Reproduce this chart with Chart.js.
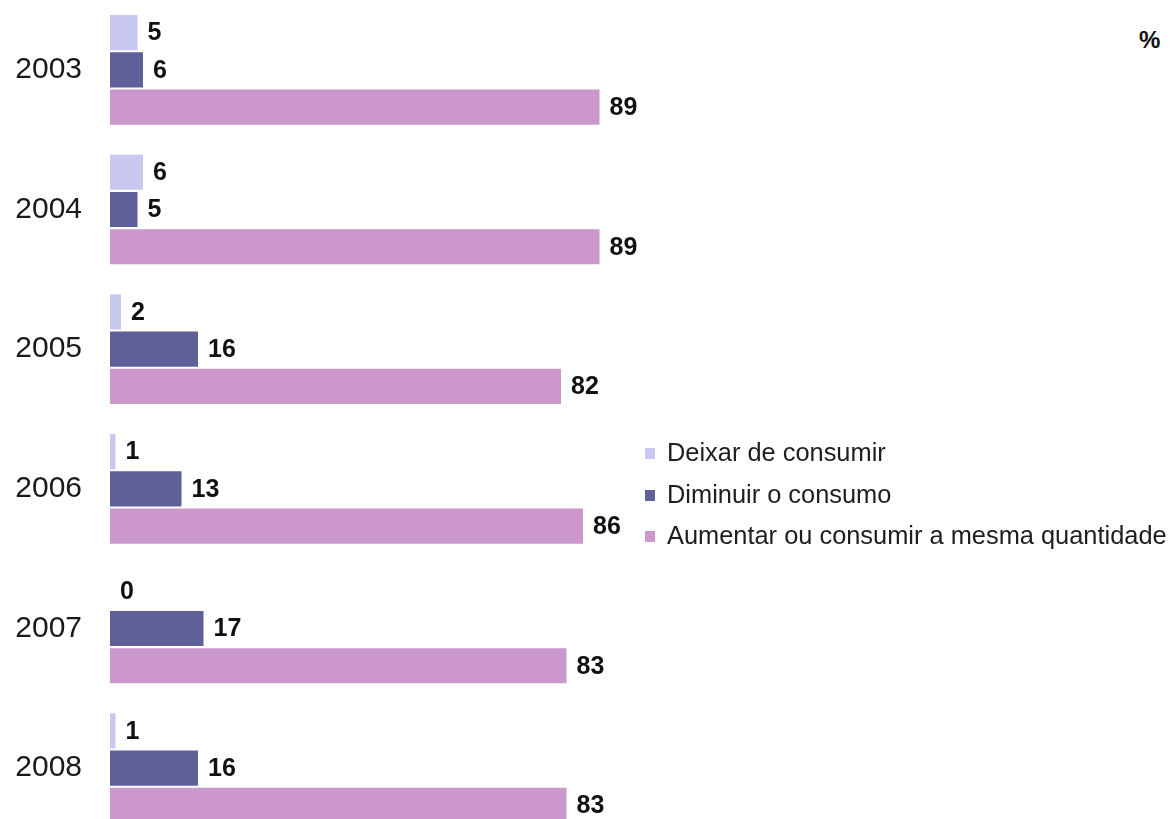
<!DOCTYPE html>
<html>
<head>
<meta charset="utf-8">
<script src="https://cdn.jsdelivr.net/npm/chart.js@4.4.1/dist/chart.umd.min.js"></script>
<style>
  html, body { margin: 0; padding: 0; background: #fff; overflow: hidden; }
  body { width: 1174px; height: 819px; position: relative; font-family: "Liberation Sans", Arial, sans-serif; }
  #wrap { position: absolute; left: 0; top: 0; width: 660px; height: 838px; }
  #legend { position: absolute; left: 645px; top: 434px; color: #1e1e1e; font-size: 25.4px; }
  #legend div { height: 41.5px; line-height: 36px; white-space: nowrap; }
  #legend span.box { display: inline-block; width: 10px; height: 11px; margin-right: 12px; vertical-align: 2px; }
  #pct { position: absolute; left: 1139px; top: 26px; font-weight: bold; font-size: 24px; color: #111; }
</style>
</head>
<body>
<div id="wrap"><canvas id="chart-1"></canvas></div>
<div id="legend"></div>
<div id="pct">%</div>
<script>
const years = ['2003', '2004', '2005', '2006', '2007', '2008'];
const seriesNames = ['Deixar de consumir', 'Diminuir o consumo', 'Aumentar ou consumir a mesma quantidade'];
const deixar = [5, 6, 2, 1, 0, 1];
const diminuir = [6, 5, 16, 13, 17, 16];
const aumentar = [89, 89, 82, 86, 83, 83];
const colours = ['#c8c8f0', '#606098', '#cc98cc'];

const chart1 = document.querySelector('#chart-1');
const legend = document.querySelector('#legend');

// values written at the end of each bar
const barValues = {
    id: 'barValues',
    afterDatasetsDraw(chart) {
        const ctx = chart.ctx;
        ctx.save();
        ctx.font = 'bold 25px "Liberation Sans", Arial, sans-serif';
        ctx.fillStyle = '#111';
        ctx.textAlign = 'left';
        ctx.textBaseline = 'middle';
        chart.data.datasets.forEach((ds, i) => {
            const meta = chart.getDatasetMeta(i);
            meta.data.forEach((bar, j) => {
                ctx.fillText(ds.data[j], bar.x + 10, bar.y + 1);
            });
        });
        ctx.restore();
    }
};

new Chart(chart1, {
    type: 'bar',
    data: {
        labels: years,
        datasets: [
            { label: seriesNames[0], data: deixar, backgroundColor: colours[0] },
            { label: seriesNames[1], data: diminuir, backgroundColor: colours[1] },
            { label: seriesNames[2], data: aumentar, backgroundColor: colours[2] }
        ]
    },
    options: {
        indexAxis: 'y',
        responsive: true,
        maintainAspectRatio: false,
        devicePixelRatio: 1,
        animation: false,
        categoryPercentage: 0.8,
        barPercentage: 0.945,
        layout: { padding: 0 },
        plugins: {
            legend: { display: false },
            tooltip: { enabled: false }
        },
        scales: {
            x: {
                display: false,
                min: 0,
                max: 100
            },
            y: {
                grid: { display: false, drawTicks: false },
                border: { display: false },
                ticks: {
                    padding: 28,
                    color: '#1a1a1a',
                    font: { family: '"Liberation Sans", Arial, sans-serif', size: 30 }
                },
                afterFit(scale) {
                    scale.width = 110;
                    scale.paddingTop = 0;
                    scale.paddingBottom = 0;
                }
            }
        }
    },
    plugins: [barValues]
});

for (let i = 0; i < seriesNames.length; i++) {
    legend.innerHTML += `<div><span class="box" style="background:${colours[i]}"></span>${seriesNames[i]}</div>`;
}
</script>
</body>
</html>
